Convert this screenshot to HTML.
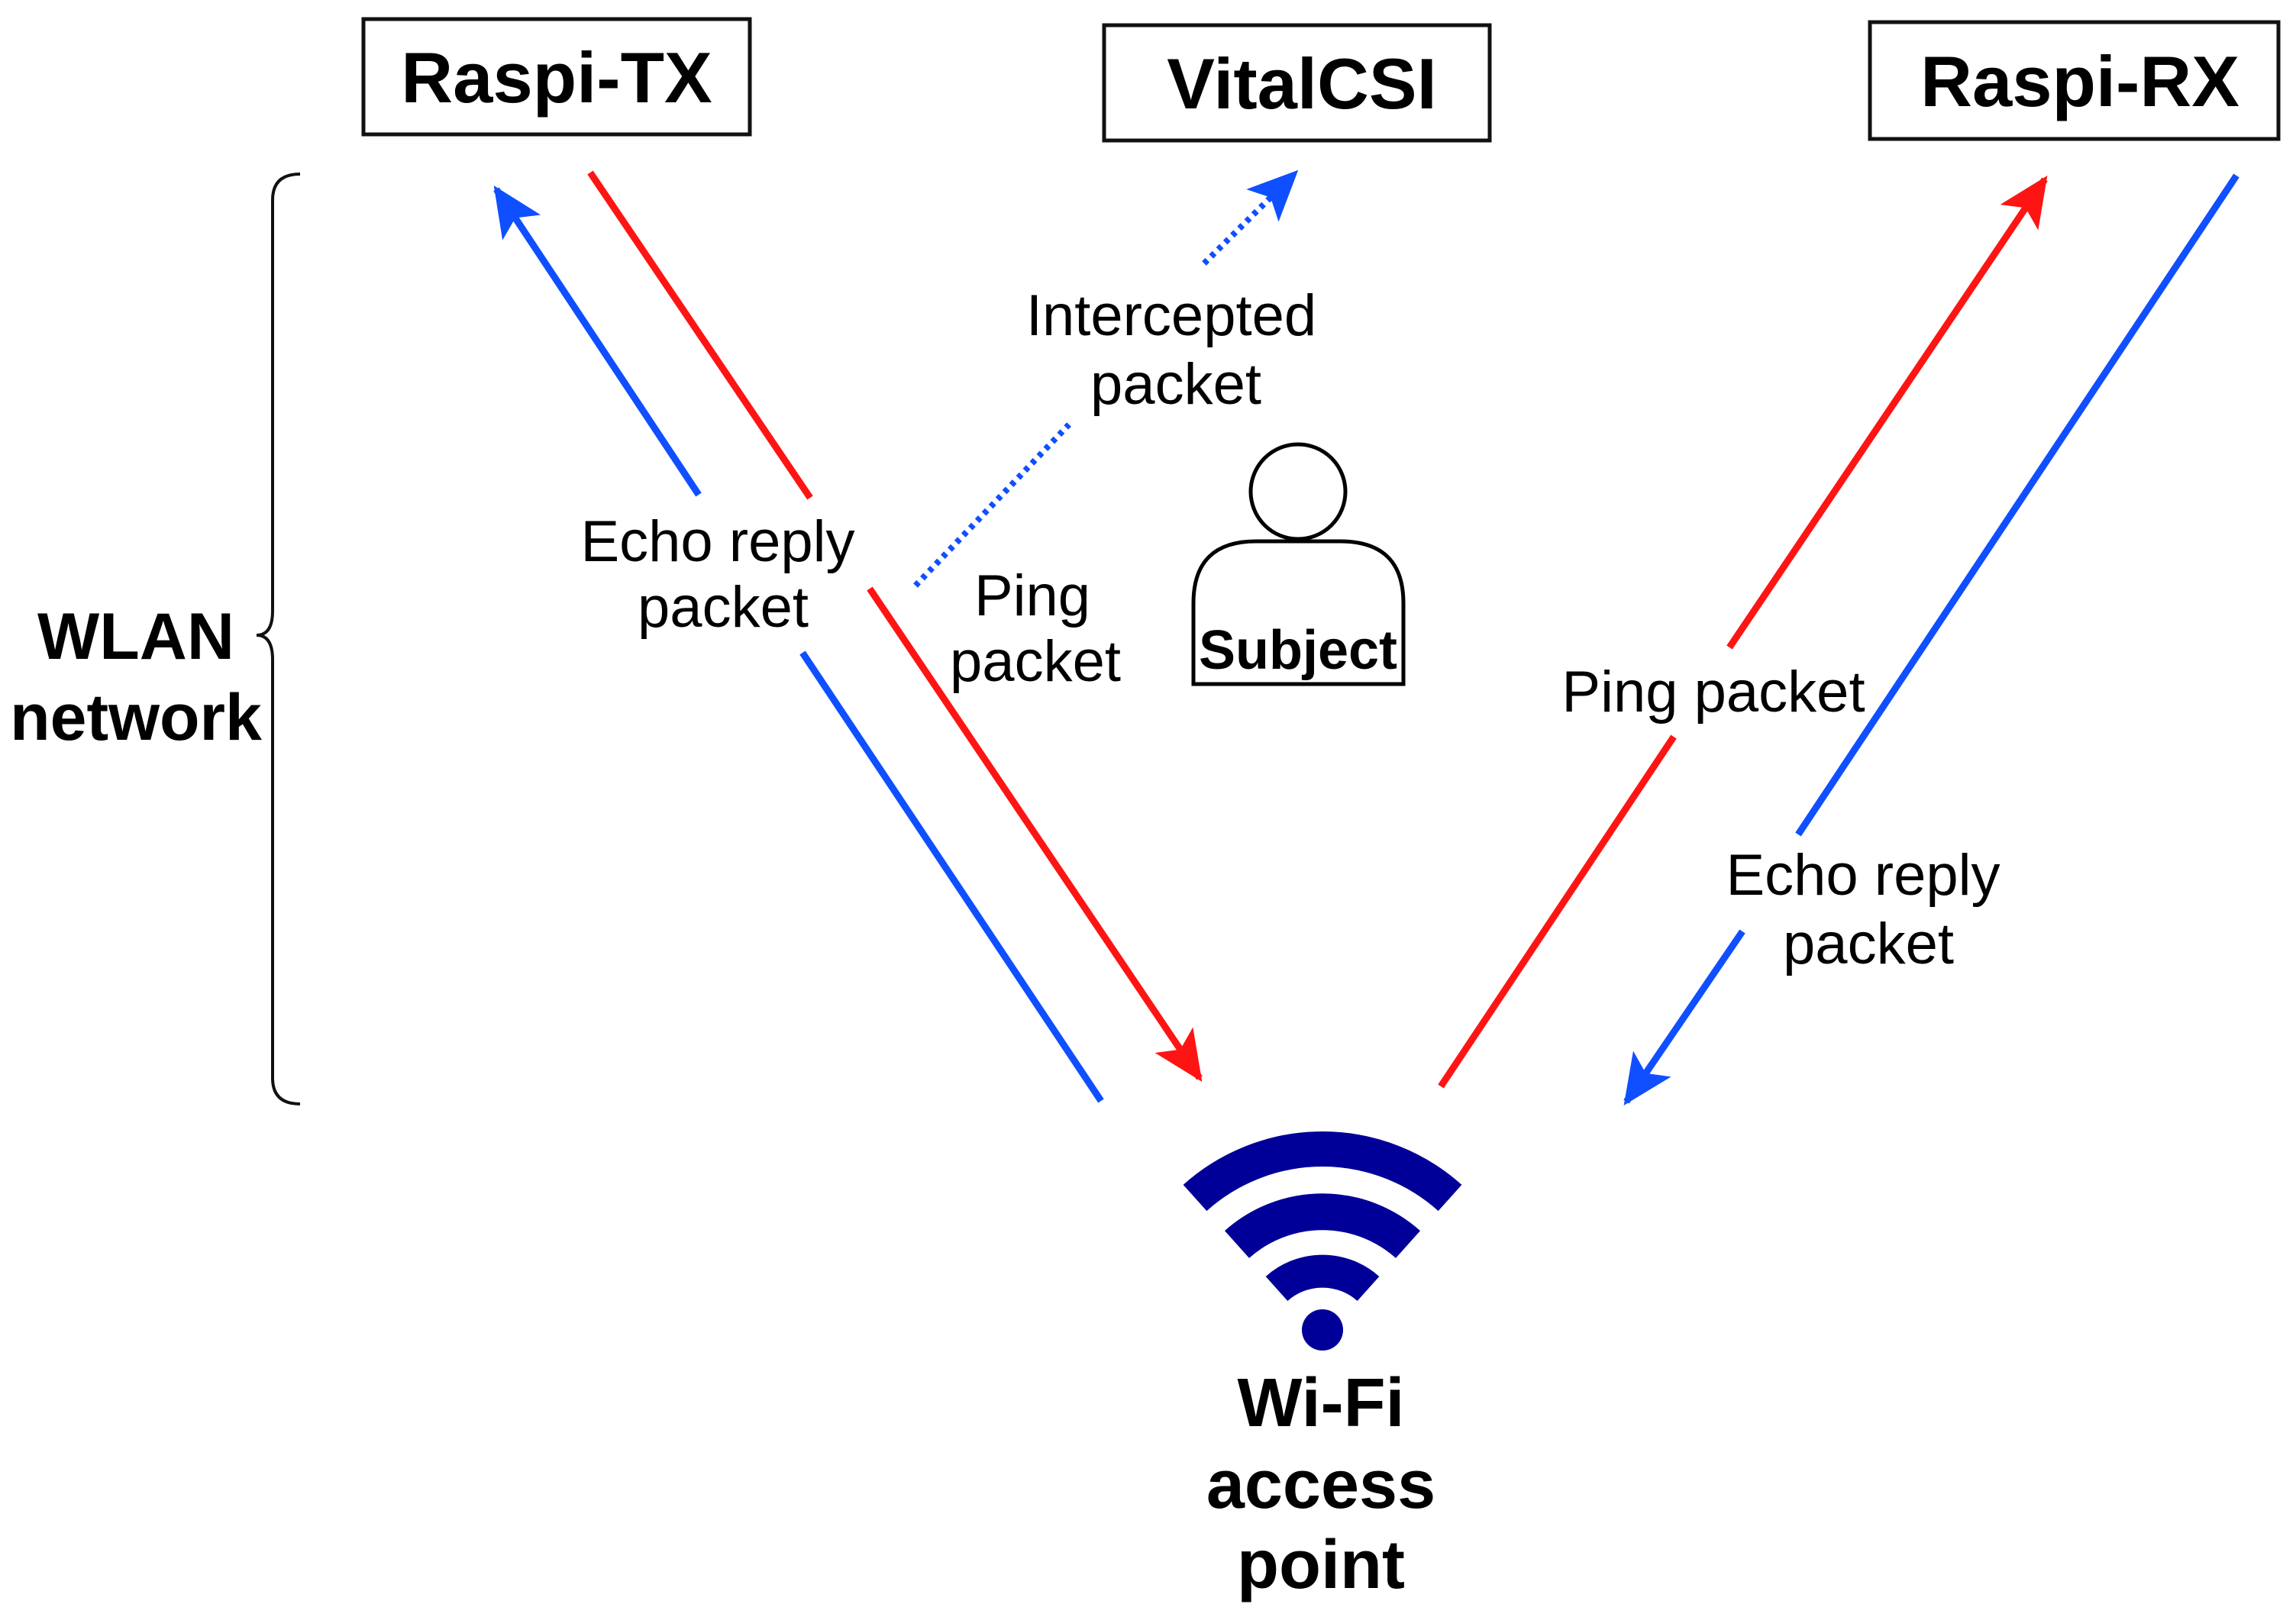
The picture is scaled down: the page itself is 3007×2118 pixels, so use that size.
<!DOCTYPE html>
<html><head><meta charset="utf-8"><style>
html,body{margin:0;padding:0;background:#fff;}
svg{display:block;}
text{font-family:"Liberation Sans",Arial,sans-serif;}
</style></head><body>
<svg width="3007" height="2118" viewBox="0 0 3007 2118" xmlns="http://www.w3.org/2000/svg">
<defs>
<marker id="ab" markerUnits="userSpaceOnUse" markerWidth="90" markerHeight="90" refX="0" refY="0" viewBox="-80 -45 90 90" orient="auto" overflow="visible">
<path d="M6,0 L-60,-30 L-45,0 L-60,30 Z" fill="#0f4fff"/></marker>
<marker id="ar" markerUnits="userSpaceOnUse" markerWidth="90" markerHeight="90" refX="0" refY="0" viewBox="-80 -45 90 90" orient="auto" overflow="visible">
<path d="M6,0 L-60,-30 L-45,0 L-60,30 Z" fill="#ff1414"/></marker>
</defs>
<rect width="3007" height="2118" fill="#fff"/>

<rect x="476" y="25" width="506" height="151" fill="none" stroke="#111" stroke-width="5"/>
<text x="729" y="134" font-size="94" font-weight="bold" text-anchor="middle">Raspi-TX</text>
<rect x="1446" y="33" width="505" height="151" fill="none" stroke="#111" stroke-width="5"/>
<text x="1705" y="142" font-size="94" font-weight="bold" text-anchor="middle">VitalCSI</text>
<rect x="2449" y="29" width="535" height="153" fill="none" stroke="#111" stroke-width="5"/>
<text x="2724" y="139" font-size="94" font-weight="bold" text-anchor="middle">Raspi-RX</text>

<line x1="1442" y1="1442" x2="1051" y2="855" stroke="#0f4fff" stroke-width="9"/>
<line x1="915" y1="648" x2="650" y2="248" stroke="#0f4fff" stroke-width="9" marker-end="url(#ab)"/>
<line x1="773" y1="226" x2="1061" y2="652" stroke="#ff1414" stroke-width="9"/>
<line x1="1139" y1="771" x2="1571" y2="1412" stroke="#ff1414" stroke-width="9" marker-end="url(#ar)"/>
<line x1="1199" y1="767" x2="1400" y2="556" stroke="#0f4fff" stroke-width="8" stroke-dasharray="6 7"/>
<line x1="1577" y1="345" x2="1696" y2="227" stroke="#0f4fff" stroke-width="8" stroke-dasharray="6 7" marker-end="url(#ab)"/>
<line x1="1887" y1="1423" x2="2192" y2="965" stroke="#ff1414" stroke-width="9"/>
<line x1="2265" y1="848" x2="2678" y2="235" stroke="#ff1414" stroke-width="9" marker-end="url(#ar)"/>
<line x1="2929" y1="230" x2="2355" y2="1093" stroke="#0f4fff" stroke-width="9"/>
<line x1="2282" y1="1220" x2="2130" y2="1443" stroke="#0f4fff" stroke-width="9" marker-end="url(#ab)"/>

<g font-size="76" text-anchor="middle" fill="#000">
<text x="1534" y="439">Intercepted</text>
<text x="1540" y="529">packet</text>
<text x="940" y="735">Echo reply</text>
<text x="947" y="821">packet</text>
<text x="1352" y="806">Ping</text>
<text x="1356" y="892">packet</text>
<text x="2244" y="932">Ping packet</text>
<text x="2440" y="1172">Echo reply</text>
<text x="2447" y="1262">packet</text>
</g>

<path d="M393,228 Q357,228 357,262 L357,800 Q357,832 336,832 Q357,832 357,864 L357,1412 Q357,1446 393,1446" fill="none" stroke="#111" stroke-width="4"/>
<text x="178" y="863" font-size="86" font-weight="bold" text-anchor="middle">WLAN</text>
<text x="178" y="969" font-size="86" font-weight="bold" text-anchor="middle">network</text>

<circle cx="1700" cy="644" r="62" fill="#fff" stroke="#000" stroke-width="5"/>
<path d="M1563,896 L1563,790 Q1563,709 1645,709 L1755,709 Q1838,709 1838,790 L1838,896 Z" fill="none" stroke="#000" stroke-width="5"/>
<text x="1700" y="876" font-size="72" font-weight="bold" text-anchor="middle">Subject</text>

<g fill="none" stroke="#000099">
<path d="M1565,1569 A250,250 0 0 1 1899,1569" stroke-width="46"/>
<path d="M1620,1630 A168,168 0 0 1 1844,1630" stroke-width="48"/>
<path d="M1672,1688 A90,90 0 0 1 1792,1688" stroke-width="43"/>
</g>
<circle cx="1732" cy="1742" r="27" fill="#000099"/>
<g font-size="90" font-weight="bold" text-anchor="middle">
<text x="1730" y="1868">Wi-Fi</text>
<text x="1730" y="1975">access</text>
<text x="1730" y="2080">point</text>
</g>
</svg>
</body></html>
